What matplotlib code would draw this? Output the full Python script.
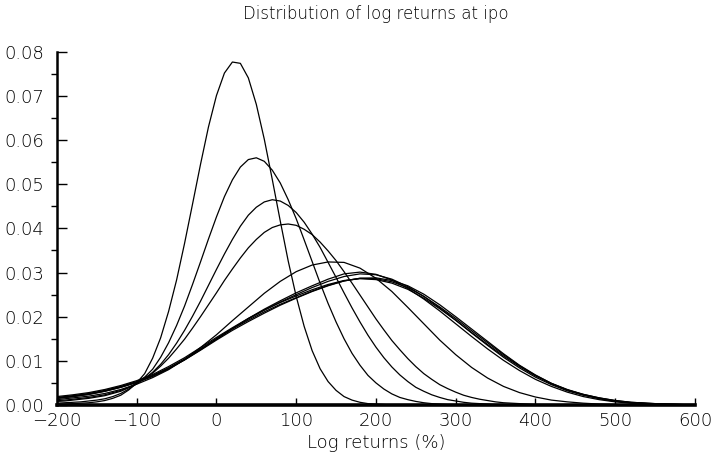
import matplotlib.pyplot as plt
from matplotlib.ticker import MultipleLocator

# truc x (log returns, %)
x_fine = [-200, -190, -180, -170, -160, -150, -140, -130, -120, -110,
          -100, -90, -80, -70, -60, -50, -40, -30, -20, -10,
          0, 10, 20, 30, 40, 50, 60, 70, 80, 90,
          100, 110, 120, 130, 140, 150, 160, 170, 180, 190,
          200, 210, 220, 300, 400, 500, 600]
x_mid = list(range(-200, 401, 10)) + [500, 600]
x = list(range(-200, 601, 20))

# duong hep nhat (dinh ~0.078)
d1 = [0.0002, 0.0002, 0.0003, 0.0004, 0.0005, 0.0007, 0.0010, 0.0015, 0.0022, 0.0034,
      0.0050, 0.0071, 0.0106, 0.0152, 0.0212, 0.0283, 0.0366, 0.0455, 0.0545, 0.0630,
      0.0701, 0.0752, 0.0777, 0.0774, 0.0741, 0.0681, 0.0602, 0.0511, 0.0417, 0.0326,
      0.0246, 0.0178, 0.0123, 0.0082, 0.0053, 0.0033, 0.0019, 0.0011, 0.0006, 0.0003,
      0.0002, 0.0001, 0.0, 0.0, 0.0, 0.0, 0.0]

# cac duong tren luoi 10 (x_mid)
d2 = [0.0004, 0.0005, 0.0006, 0.0007, 0.0009, 0.0011, 0.0014, 0.0019, 0.0026, 0.0036,
      0.0048, 0.0063, 0.0081, 0.0108, 0.0141, 0.0180, 0.0224, 0.0273, 0.0324, 0.0376,
      0.0426, 0.0472, 0.0510, 0.0539, 0.0556, 0.0560, 0.0552, 0.0532, 0.0503, 0.0465,
      0.0422, 0.0374, 0.0325, 0.0276, 0.0230, 0.0188, 0.0150, 0.0117, 0.0090, 0.0067,
      0.0050, 0.0036, 0.0025, 0.0017, 0.0012, 0.0008, 0.0005, 0.0003, 0.0002, 0.0001,
      0.0001, 0.0, 0.0, 0.0, 0.0, 0.0, 0.0, 0.0, 0.0, 0.0,
      0.0, 0.0, 0.0]

d3 = [0.0008, 0.0009, 0.0011, 0.0013, 0.0015, 0.0018, 0.0021, 0.0026, 0.0031, 0.0039,
      0.0048, 0.0060, 0.0074, 0.0092, 0.0114, 0.0140, 0.0169, 0.0201, 0.0235, 0.0271,
      0.0307, 0.0342, 0.0375, 0.0405, 0.0430, 0.0448, 0.0460, 0.0465, 0.0462, 0.0452,
      0.0436, 0.0414, 0.0387, 0.0357, 0.0323, 0.0289, 0.0254, 0.0220, 0.0188, 0.0158,
      0.0131, 0.0107, 0.0086, 0.0068, 0.0053, 0.0040, 0.0031, 0.0023, 0.0017, 0.0012,
      0.0009, 0.0006, 0.0004, 0.0003, 0.0002, 0.0001, 0.0001, 0.0, 0.0, 0.0,
      0.0, 0.0, 0.0]

d4 = [0.0010, 0.0011, 0.0013, 0.0015, 0.0017, 0.0020, 0.0023, 0.0028, 0.0033, 0.0040,
      0.0049, 0.0060, 0.0072, 0.0088, 0.0106, 0.0127, 0.0149, 0.0174, 0.0200, 0.0227,
      0.0254, 0.0282, 0.0308, 0.0333, 0.0356, 0.0375, 0.0391, 0.0402, 0.0408, 0.0410,
      0.0407, 0.0398, 0.0386, 0.0369, 0.0349, 0.0327, 0.0302, 0.0276, 0.0249, 0.0222,
      0.0195, 0.0170, 0.0146, 0.0125, 0.0105, 0.0087, 0.0071, 0.0058, 0.0046, 0.0037,
      0.0029, 0.0022, 0.0017, 0.0013, 0.0010, 0.0007, 0.0005, 0.0004, 0.0003, 0.0002,
      0.0001, 0.0, 0.0]

# cac duong rong tren luoi 20 (x)
d5 = [0.0012, 0.0016, 0.0020, 0.0026, 0.0035, 0.0047, 0.0062, 0.0080, 0.0103, 0.0130,
      0.0159, 0.0191, 0.0222, 0.0253, 0.0280, 0.0302, 0.0317, 0.0324, 0.0323, 0.0310,
      0.0287, 0.0257, 0.0221, 0.0184, 0.0147, 0.0114, 0.0085, 0.0061, 0.0042, 0.0028,
      0.0018, 0.0011, 0.0007, 0.0004, 0.0002, 0.0001, 0.0, 0.0, 0.0, 0.0, 0.0]

d6 = [0.0015, 0.0019, 0.0024, 0.0031, 0.0040, 0.0051, 0.0065, 0.0082, 0.0102, 0.0125,
      0.0149, 0.0173, 0.0196, 0.0217, 0.0236, 0.0254, 0.0270, 0.0285, 0.0297, 0.0301,
      0.0296, 0.0283, 0.0264, 0.0240, 0.0213, 0.0184, 0.0155, 0.0127, 0.0101, 0.0078,
      0.0058, 0.0042, 0.0029, 0.0019, 0.0012, 0.0007, 0.0004, 0.0002, 0.0001, 0.0001, 0.0]

d7 = [0.0016, 0.0020, 0.0025, 0.0032, 0.0041, 0.0052, 0.0066, 0.0083, 0.0103, 0.0126,
      0.0150, 0.0173, 0.0195, 0.0215, 0.0233, 0.0250, 0.0266, 0.0280, 0.0291, 0.0297,
      0.0295, 0.0285, 0.0268, 0.0246, 0.0220, 0.0192, 0.0163, 0.0135, 0.0108, 0.0084,
      0.0063, 0.0046, 0.0032, 0.0022, 0.0014, 0.0008, 0.0005, 0.0003, 0.0002, 0.0001, 0.0]

# bo duong gan nhau (gioi han)
d8 = [0.0019, 0.0023, 0.0028, 0.0035, 0.0044, 0.0055, 0.0069, 0.0087, 0.0107, 0.0130,
      0.0153, 0.0175, 0.0196, 0.0215, 0.0232, 0.0247, 0.0261, 0.0273, 0.0282, 0.0286,
      0.0284, 0.0276, 0.0262, 0.0242, 0.0218, 0.0192, 0.0164, 0.0137, 0.0111, 0.0087,
      0.0066, 0.0048, 0.0034, 0.0024, 0.0016, 0.0010, 0.0006, 0.0004, 0.0002, 0.0001, 0.0001]

d9 = [0.0017, 0.0021, 0.0026, 0.0033, 0.0042, 0.0053, 0.0067, 0.0084, 0.0104, 0.0127,
      0.0150, 0.0172, 0.0192, 0.0211, 0.0228, 0.0243, 0.0258, 0.0271, 0.0281, 0.0287,
      0.0286, 0.0279, 0.0266, 0.0246, 0.0222, 0.0196, 0.0168, 0.0141, 0.0114, 0.0089,
      0.0067, 0.0049, 0.0035, 0.0024, 0.0016, 0.0010, 0.0006, 0.0004, 0.0002, 0.0001, 0.0001]

d10 = [0.0015, 0.0019, 0.0024, 0.0031, 0.0040, 0.0051, 0.0065, 0.0082, 0.0102, 0.0124,
       0.0147, 0.0169, 0.0189, 0.0208, 0.0226, 0.0242, 0.0257, 0.0270, 0.0281, 0.0287,
       0.0288, 0.0282, 0.0270, 0.0251, 0.0227, 0.0200, 0.0172, 0.0144, 0.0116, 0.0090,
       0.0068, 0.0049, 0.0034, 0.0023, 0.0015, 0.0009, 0.0005, 0.0003, 0.0002, 0.0001, 0.0]

fig = plt.figure(figsize=(7.12, 4.55), dpi=100)
ax = fig.add_axes([0.080, 0.110, 0.896, 0.776])

ax.plot(x_fine, d1, color='black', lw=0.9)
for d in [d2, d3, d4]:
    ax.plot(x_mid, d, color='black', lw=0.9)
for d in [d5, d6, d7, d8, d9, d10]:
    ax.plot(x, d, color='black', lw=0.9)

ax.set_xlim(-200, 600)
ax.set_ylim(0, 0.08)
ax.set_title('Distribution of log returns at ipo', fontsize=12, pad=24,
             fontweight='light')
ax.set_xlabel('Log returns (%)', fontsize=13, labelpad=3, fontweight='light')

# truc: chi ve trai va duoi
ax.spines['top'].set_visible(False)
ax.spines['right'].set_visible(False)
ax.spines['left'].set_linewidth(1.8)
ax.spines['bottom'].set_linewidth(2.6)

ax.xaxis.set_major_locator(MultipleLocator(100))
ax.yaxis.set_major_locator(MultipleLocator(0.01))
ax.yaxis.set_minor_locator(MultipleLocator(0.005))
ax.yaxis.set_major_formatter(plt.FormatStrFormatter('%.2f'))
ax.tick_params(axis='both', direction='in', labelsize=13, width=1, color='black')
ax.tick_params(axis='y', which='major', length=7, pad=9)
ax.tick_params(axis='y', which='minor', length=4, width=1)
ax.tick_params(axis='x', which='major', length=5, pad=5)
for lab in ax.get_xticklabels() + ax.get_yticklabels():
    lab.set_fontweight('light')

fig.savefig('out.png', dpi=100)
